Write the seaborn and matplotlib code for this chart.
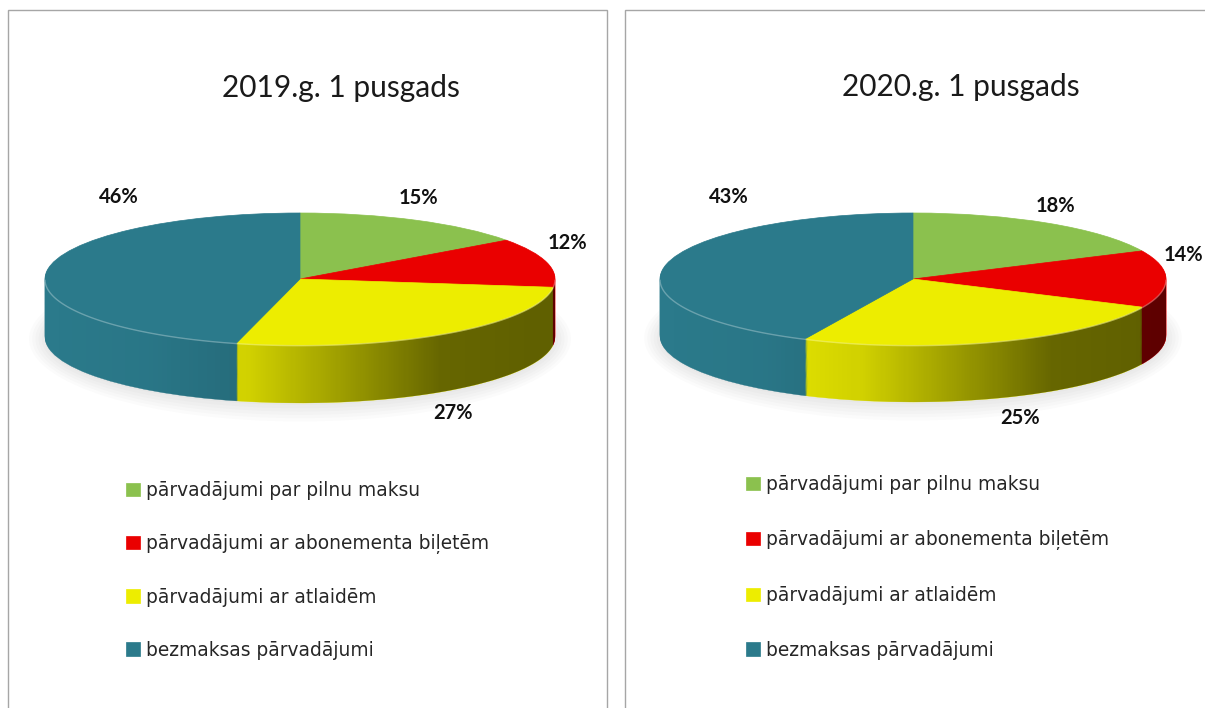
import numpy as np
import matplotlib
matplotlib.use("Agg")
import matplotlib.pyplot as plt
import seaborn as sns
from matplotlib.patches import Rectangle, Polygon, Ellipse
from matplotlib.colors import to_rgb

# ---------------- data ----------------
categories = [
    "pārvadājumi par pilnu maksu",
    "pārvadājumi ar abonementa biļetēm",
    "pārvadājumi ar atlaidēm",
    "bezmaksas pārvadājumi",
]
titles = ["2019.g. 1 pusgads", "2020.g. 1 pusgads"]
values_2019 = [15, 12, 27, 46]
values_2020 = [18, 14, 25, 43]
colors = ["#8BC14E", "#EA0000", "#EDED00", "#2B7A8B"]

sns.set_theme(style="white")
plt.rcParams["font.family"] = ["Lato", "DejaVu Sans"]

W, H = 1205, 708
fig = plt.figure(figsize=(W / 100, H / 100), dpi=100)
fig.patch.set_facecolor("white")


def fig_rect(left, top, width, height):
    return [left / W, 1 - (top + height) / H, width / W, height / H]


# panel borders
for x0, x1 in [(8, 607), (625, 1215)]:
    fig.add_artist(Rectangle((x0 / W, -0.1), (x1 - x0) / W, 1.1 - 10 / H,
                             transform=fig.transFigure, fill=False,
                             edgecolor="#A6A6A6", lw=1.0))


def draw_pie(values, title, cx, cy, rx, ry, depth, label_px, title_xy,
             legend_xy, spacing):
    XL, YT, YB = 1.3, 2.0, 3.2
    ax = fig.add_axes(fig_rect(cx - XL * rx, cy - YT * ry, 2 * XL * rx, (YT + YB) * ry))
    d = depth / ry

    # soft shadow
    for i in range(6):
        ax.add_patch(Ellipse((0, -d - 0.03), 2.0 + 0.025 * i, 2.0 + 0.1 * i,
                             facecolor="#808080", alpha=0.03, lw=0, zorder=0.5))

    # side walls: stacked pies
    n = 60
    for k in range(n):
        s = d * (1 - k / n)
        wedges, _ = ax.pie(values, colors=colors, startangle=90, counterclock=False,
                           center=(0, -s), radius=1,
                           wedgeprops=dict(linewidth=0.25, zorder=1))
        for w in wedges:
            w.set_edgecolor(w.get_facecolor())

    # horizontal shading of the wall
    xs = np.linspace(-1, 1, 400)
    alpha = np.interp(xs, [-1, -0.6, -0.2, 0.55, 1], [0.0, 0.03, 0.12, 0.57, 0.6])
    grad = np.zeros((1, 400, 4))
    grad[..., 3] = alpha
    t = np.linspace(np.pi, 2 * np.pi, 300)
    top_edge = np.column_stack([np.cos(t), np.sin(t)])
    bot_edge = np.column_stack([np.cos(t[::-1]), np.sin(t[::-1]) - d])
    wall = Polygon(np.vstack([top_edge, bot_edge]), closed=True,
                   transform=ax.transData, facecolor="none", edgecolor="none")
    ax.add_patch(wall)
    im = ax.imshow(grad, extent=(-1, 1, -1 - d, 0), aspect="auto", zorder=2,
                   interpolation="bilinear")
    im.set_clip_path(wall)

    # top surface
    top, _ = ax.pie(values, colors=colors, startangle=90, counterclock=False,
                    radius=1, wedgeprops=dict(linewidth=0.5, zorder=3))
    for w in top:
        w.set_edgecolor(w.get_facecolor())

    # light rim highlight along the front edge of each slice
    for w in top:
        a1, a2 = w.theta1 % 360, w.theta2 % 360
        if a2 <= a1:
            a2 += 360
        for off in (0, 360):
            lo, hi = max(a1, 180 + off), min(a2, 360 + off)
            if hi > lo:
                tt = np.radians(np.linspace(lo, hi, 100))
                base = np.array(to_rgb(w.get_facecolor()))
                ax.plot(np.cos(tt), np.sin(tt) - 0.01, color=base * 0.5 + 0.5,
                        lw=1.0, alpha=0.6, zorder=3.5, solid_capstyle="butt")

    # data labels
    for v, (px, py) in zip(values, label_px):
        ax.text((px - cx) / rx, -(py - cy) / ry, f"{v}%", ha="center", va="center",
                fontsize=14.5, fontweight="bold", color="#111111", zorder=5)

    ax.set_aspect("auto")
    ax.set_xlim(-XL, XL)
    ax.set_ylim(-YB, YT)
    ax.axis("off")

    fig.text(title_xy[0] / W, 1 - title_xy[1] / H, title, ha="center", va="center",
             fontsize=21.5, color="#1A1A1A")

    fig.legend(handles=top, labels=categories, loc="upper left",
               bbox_to_anchor=(legend_xy[0] / W, 1 - legend_xy[1] / H),
               bbox_transform=fig.transFigure, frameon=False,
               prop={"family": "DejaVu Sans", "size": 13.4},
               handlelength=0.75, handleheight=0.75, handletextpad=0.3,
               labelspacing=spacing, borderpad=0, borderaxespad=0)


draw_pie(values_2019, titles[0], 300, 279, 255, 66, 58,
         [(418, 198), (567, 243), (453, 413), (119, 197)],
         (341, 88), (126, 481), 1.82)
draw_pie(values_2020, titles[1], 913, 279, 253, 66, 57,
         [(1055, 206), (1183, 255), (1020, 418), (729, 197)],
         (961, 87), (746, 475), 1.93)

fig.savefig("out.png", dpi=100)
